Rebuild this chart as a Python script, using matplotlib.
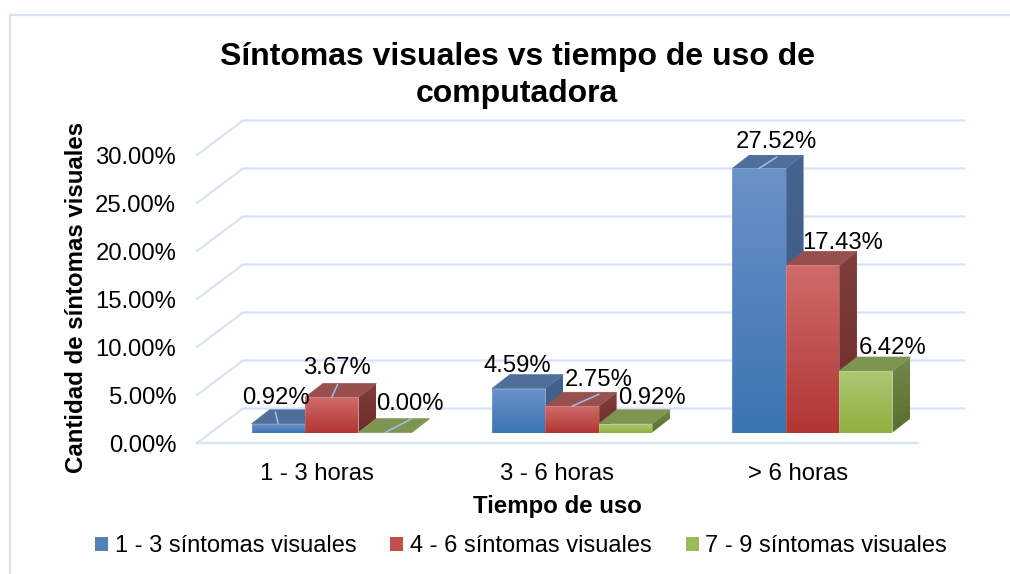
import matplotlib
matplotlib.use("Agg")
import matplotlib.pyplot as plt
import numpy as np
from matplotlib.colors import to_rgb
from matplotlib.patches import Polygon, Patch, Rectangle

plt.rcParams['font.family'] = ['Liberation Sans', 'DejaVu Sans']

categories = ["1 - 3 horas", "3 - 6 horas", "> 6 horas"]
series_names = ["1 - 3 síntomas visuales", "4 - 6 síntomas visuales", "7 - 9 síntomas visuales"]
sintomas_1_3 = [0.92, 4.59, 27.52]
sintomas_4_6 = [3.67, 2.75, 17.43]
sintomas_7_9 = [0.00, 0.92, 6.42]
y_ticks = [0, 5, 10, 15, 20, 25, 30]

# colores: frente arriba, frente abajo, tapa, lado arriba, lado abajo
palette = [
    ("#6b91c9", "#3c74b3", "#4f6f9b", "#46648f", "#345a86"),
    ("#cf6b69", "#b13634", "#97504e", "#803f3d", "#6e2a28"),
    ("#abc872", "#8fb040", "#7d9551", "#71894a", "#586f2e"),
]
legend_colors = ["#4f81bd", "#c0504d", "#9bbb59"]
grid_color = "#d6e3f5"
leader_color = "#9cc2e8"

W, H = 1010, 574
fig = plt.figure(figsize=(W / 100, H / 100), dpi=100)
ax = fig.add_axes([197 / W, 1 - 443 / H, 721 / W, 288 / H])
ax.set_xlim(0, 3)
ax.set_ylim(0, 30)
for s in ax.spines.values():
    s.set_visible(False)
ax.patch.set_alpha(0)

px_x = 3 / 721
px_y = 30 / 288

# marco del grafico
fig.add_artist(Rectangle((10 / W, -0.05), 1100 / W, 1.05 - 15 / H, fill=False,
                         ec=grid_color, lw=1.6, transform=fig.transFigure))

# piso y paredes en perspectiva
back_dx, back_dy = 46 * px_x, 34.5 * px_y
for v in y_ticks:
    ax.plot([0, back_dx, 3 + back_dx], [v, v + back_dy, v + back_dy], color=grid_color,
            lw=1.6, clip_on=False, zorder=1)
ax.plot([0, 3], [0, 0], color=grid_color, lw=1.6, clip_on=False, zorder=1)


def shade(poly, c1, c2, z):
    pts = np.array(poly)
    t = np.linspace(0, 1, 64)[:, None, None]
    rgb = (1 - t) * np.array(to_rgb(c1))[None, None, :] + t * np.array(to_rgb(c2))[None, None, :]
    im = ax.imshow(rgb, extent=(pts[:, 0].min(), pts[:, 0].max(), pts[:, 1].min(), pts[:, 1].max()),
                   aspect="auto", interpolation="bilinear", zorder=z)
    im.set_clip_path(Polygon(poly, transform=ax.transData))


bar_w = 53.4 * px_x
base_dx, base_dy = 14.5 * px_x, 10.4 * px_y
depth_dx, depth_dy = 18 * px_x, 14 * px_y
x = np.arange(len(categories)) + 0.5
series = [sintomas_1_3, sintomas_4_6, sintomas_7_9]

# desplazamiento de etiquetas en pixeles, y de la linea guia
label_off = [
    [(-2, 26), (5, 29), (25, 29)],
    [(-1, 23), (27, 26), (27, 26)],
    [(17, 26), (30, 22), (27, 23)],
]
leader_off = [
    [(-3, 12), (6, 13), (26, 13.5)],
    [None, (27, 12), None],
    [(18, 11.5), None, None],
]

z = 3
for g in range(3):
    for k in range(3):
        val = series[k][g]
        c_top, c_bot, c_cap, s_top, s_bot = palette[k]
        x0 = x[g] - 1.5 * bar_w + k * bar_w + base_dx
        x1 = x0 + bar_w
        y0 = base_dy
        y1 = base_dy + val
        side = [(x1, y0), (x1 + depth_dx, y0 + depth_dy), (x1 + depth_dx, y1 + depth_dy), (x1, y1)]
        cap = [(x0, y1), (x0 + depth_dx, y1 + depth_dy), (x1 + depth_dx, y1 + depth_dy), (x1, y1)]
        shade(side, s_top, s_bot, z)
        ax.add_patch(Polygon(side, fc="none", ec="white", lw=0.4, alpha=0.2, zorder=z + 0.1))
        ax.add_patch(Polygon(cap, fc=c_cap, ec=c_cap, lw=0.4, zorder=z + 0.2))
        if val > 0:
            shade([(x0, y0), (x1, y0), (x1, y1), (x0, y1)], c_top, c_bot, z + 0.3)
            ax.bar(x0, val, bar_w, bottom=y0, align="edge", fc="none", ec="white", lw=0.4,
                   alpha=0.25, zorder=z + 0.4)
        z += 1

ax.set_xlim(0, 3)
ax.set_ylim(0, 30)

# etiquetas de datos encima de todo
for g in range(3):
    for k in range(3):
        val = series[k][g]
        cx = x[g] - bar_w + k * bar_w + base_dx
        ty = base_dy + val
        lo = leader_off[g][k]
        if lo is not None:
            ax.annotate("", xy=(cx, ty), xytext=(lo[0] * 0.72, lo[1] * 0.72), textcoords="offset points",
                        arrowprops=dict(arrowstyle="-", color=leader_color, lw=1.1, shrinkA=0, shrinkB=0),
                        zorder=50)
        dx, dy = label_off[g][k]
        ax.annotate(f"{val:.2f}%", xy=(cx, ty), xytext=(dx * 0.72, dy * 0.72), textcoords="offset points",
                    ha="center", va="center", fontsize=17.2, color="black", zorder=60)

ax.set_xticks(x)
ax.set_xticklabels(categories, fontsize=17.2)
ax.set_yticks(y_ticks)
ax.set_yticklabels([f"{v:.2f}%" for v in y_ticks], fontsize=17.2)
ax.tick_params(axis="y", length=0, pad=15)
ax.tick_params(axis="x", length=0, pad=14.3)

fig.text(517 / W, 1 - 75.5 / H, "Síntomas visuales vs tiempo de uso de\ncomputadora", ha="center", va="center",
         fontsize=23, fontweight="bold", linespacing=1.27)
fig.text(77 / W, 1 - 297 / H, "Cantidad de síntomas visuales", rotation=90, ha="center", va="center",
         fontsize=17.3, fontweight="bold")
fig.text(557 / W, 1 - 506 / H, "Tiempo de uso", ha="center", va="center", fontsize=17.3, fontweight="bold")

handles = [Patch(fc=c, ec="none") for c in legend_colors]
fig.legend(handles, series_names, loc="center", bbox_to_anchor=(521 / W, 1 - 546 / H), ncol=3, frameon=False,
           fontsize=17, handlelength=0.55, handleheight=0.55, handletextpad=0.27, columnspacing=1.45)

fig.savefig("out.png", dpi=100)
